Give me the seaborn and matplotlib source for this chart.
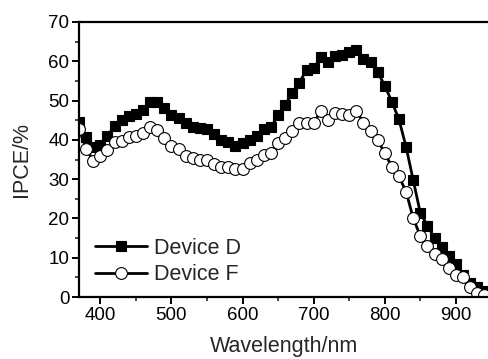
import numpy as np
import pandas as pd
import seaborn as sns
import matplotlib
matplotlib.use("Agg")
import matplotlib.pyplot as plt
from matplotlib.ticker import MultipleLocator

wavelength = list(range(370, 950, 10))

device_d = [44.5, 40.8, 38.2, 38.7, 41.0, 43.5, 45.0, 46.1, 46.7, 47.6,
            49.7, 49.7, 48.0, 46.3, 45.5, 44.2, 43.3, 43.1, 42.7, 41.6,
            39.9, 39.5, 38.4, 39.3, 39.9, 41.0, 42.7, 43.2, 46.3, 48.9,
            52.0, 54.6, 57.8, 58.2, 61.0, 59.7, 61.3, 61.7, 62.4, 62.8,
            60.5, 59.9, 57.3, 53.8, 49.7, 45.2, 38.2, 29.8, 21.4, 18.2,
            15.0, 12.7, 10.4, 8.3, 5.6, 3.6, 2.5, 1.5]

device_f = [42.7, 37.8, 34.7, 35.9, 37.4, 39.5, 39.8, 40.8, 41.0, 41.8,
            43.3, 42.5, 40.6, 38.4, 37.8, 35.9, 35.5, 35.0, 34.9, 33.8,
            33.0, 33.2, 32.6, 32.7, 34.2, 35.0, 36.1, 36.7, 39.3, 40.4,
            42.3, 44.4, 44.4, 44.3, 47.3, 45.0, 46.9, 46.7, 46.3, 47.4,
            44.4, 42.2, 40.0, 36.6, 33.2, 30.7, 26.8, 20.1, 15.5, 13.0,
            10.9, 9.6, 7.3, 5.6, 5.0, 2.6, 0.9, 0.5]

labels = ["Device D", "Device F"]

sns.set_style("white")
plt.rcParams['font.family'] = ['Liberation Sans', 'DejaVu Sans']

fig = plt.figure(figsize=(4.89, 3.59), dpi=100)
ax = fig.add_axes([79/489, 1 - 297/359, 1 - 79/489 + 0.002, 275/359])

df_d = pd.DataFrame({"wl": wavelength, "ipce": device_d})
df_f = pd.DataFrame({"wl": wavelength, "ipce": device_f})

sns.lineplot(data=df_d, x="wl", y="ipce", ax=ax, color="black", lw=2.0,
             marker="s", markersize=7, markerfacecolor="black",
             markeredgecolor="black", markeredgewidth=0.8, label=labels[0])
sns.lineplot(data=df_f, x="wl", y="ipce", ax=ax, color="black", lw=2.0,
             marker="o", markersize=8.5, markerfacecolor="white",
             markeredgecolor="black", markeredgewidth=0.8, label=labels[1])

ax.set_xlim(370, 948)
ax.set_ylim(0, 70)
ax.xaxis.set_major_locator(MultipleLocator(100))
ax.xaxis.set_minor_locator(MultipleLocator(50))
ax.yaxis.set_major_locator(MultipleLocator(10))
ax.yaxis.set_minor_locator(MultipleLocator(5))

for side in ["left", "top", "bottom"]:
    ax.spines[side].set_visible(True)
    ax.spines[side].set_linewidth(1.6)
    ax.spines[side].set_color("black")
ax.spines["right"].set_visible(False)

ax.tick_params(axis="both", which="major", direction="out", length=5,
               width=1.4, labelsize=13.5, colors="black", pad=2,
               bottom=True, left=True, top=False, right=False)
ax.tick_params(axis="both", which="minor", direction="out", length=3,
               width=1.2, bottom=True, left=True, top=False, right=False)

ax.set_xlabel("Wavelength/nm", fontsize=15.5, labelpad=9)
ax.set_ylabel("IPCE/%", fontsize=15.5, labelpad=12)

leg = ax.legend(loc="upper left", bbox_to_anchor=(0.04, 0.215), frameon=False,
                fontsize=15.5, handlelength=2.4, handletextpad=0.3,
                labelspacing=0.25, borderpad=0, borderaxespad=0)

fig.savefig("out.png", dpi=100)
